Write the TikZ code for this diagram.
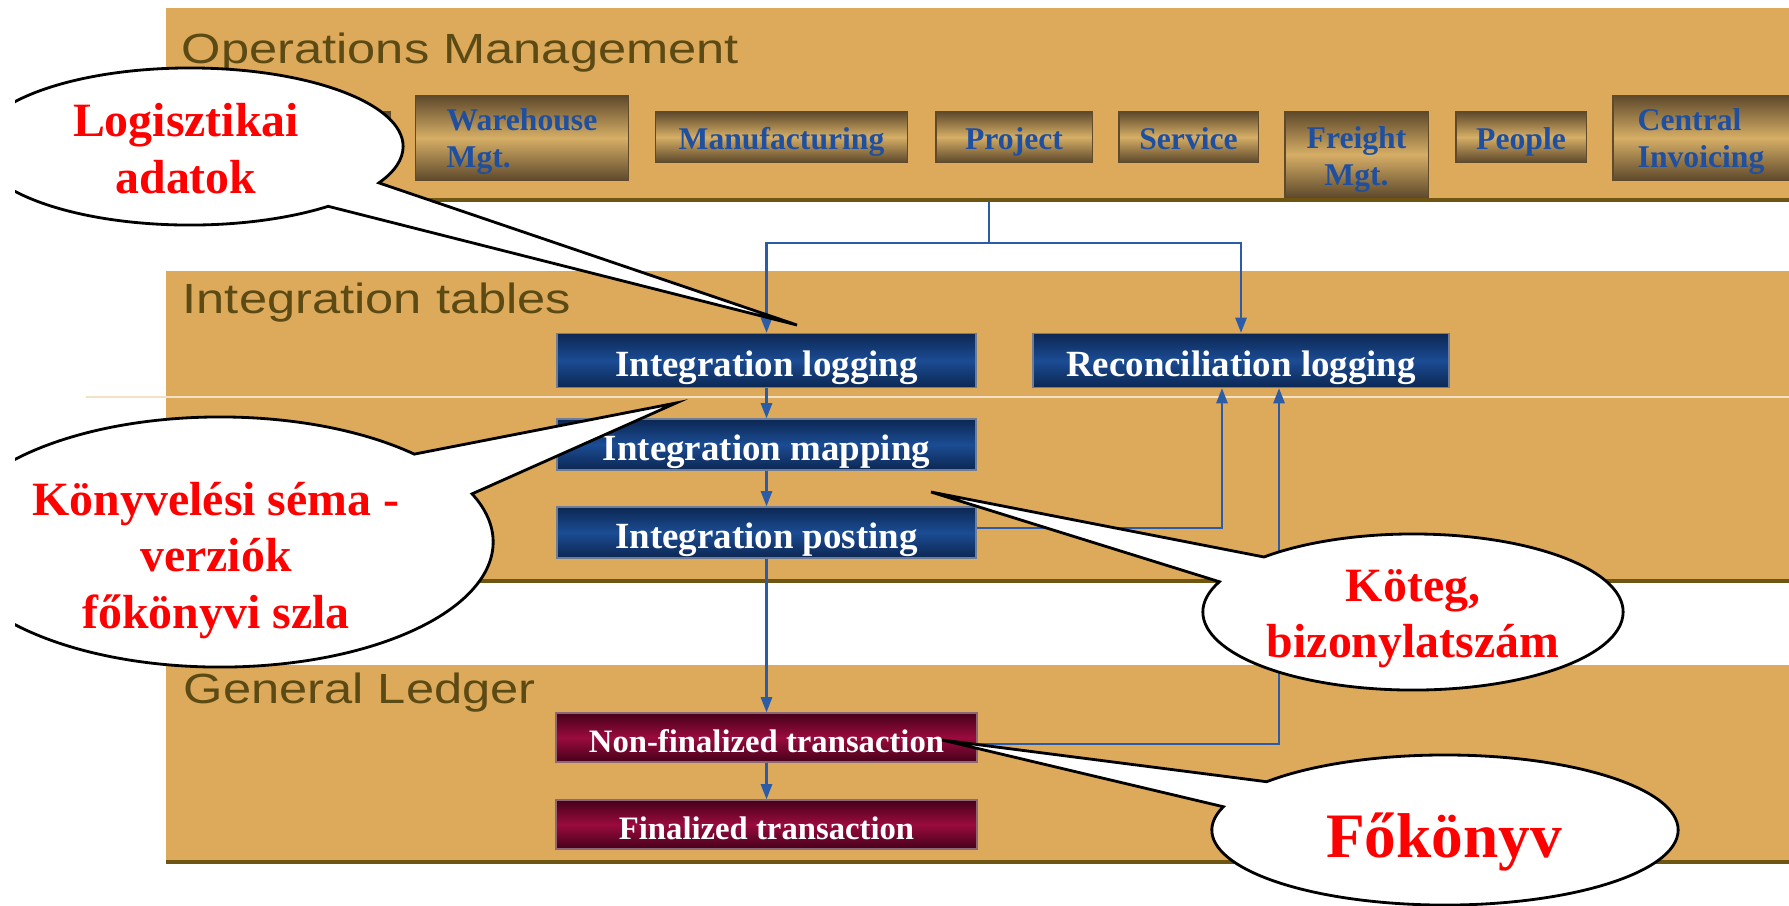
\documentclass[tikz,border=0pt]{standalone}
\usepackage{fontspec}
\setmainfont{Liberation Serif}
\newfontfamily\titlefont[FakeStretch=1.2]{Liberation Sans}
\usetikzlibrary{arrows.meta,shapes.callouts}

\begin{document}
\begin{tikzpicture}[x=0.01cm,y=-0.01cm,>={Triangle[length=4.3pt,width=3.2pt]}]
  % Local definitions
  \def\twoleft#1#2{\begin{tabular}[t]{@{}l@{}}#1\\#2\end{tabular}}
  \def\twocenter#1#2{\begin{tabular}[t]{@{}c@{}}#1\\#2\end{tabular}}

  % Colors
  \definecolor{panelcolor}{HTML}{DDAA5B}
  \definecolor{paneledge}{HTML}{6E5512}
  \definecolor{titlecolor}{HTML}{5C4A14}
  \definecolor{moduledark}{HTML}{5F4A2C}
  \definecolor{modulelight}{HTML}{D6AE66}
  \definecolor{moduletext}{HTML}{1E4FA0}
  \definecolor{navydark}{HTML}{0C2752}
  \definecolor{navymid}{HTML}{1B4C94}
  \definecolor{maroondark}{HTML}{45001A}
  \definecolor{maroonmid}{HTML}{9A0B3D}
  \definecolor{flowcolor}{HTML}{2A5CA8}
  \definecolor{calloutred}{HTML}{FF0000}

  % Styles
  \tikzstyle{panel}=[fill=panelcolor]
  \tikzstyle{panel edge}=[draw=paneledge,line width=0.9pt]
  \tikzstyle{panel title}=[anchor=base west,inner sep=0pt,text=titlecolor,
    font=\titlefont\fontsize{12}{14}\selectfont]
  \tikzstyle{module}=[draw=moduledark,line width=0.3pt,top color=moduledark,
    bottom color=moduledark,middle color=modulelight,text=moduletext,
    font=\fontsize{9}{10.5}\selectfont\bfseries,inner sep=0pt,minimum height=0.5cm]
  \tikzstyle{one line}=[text height=9pt,text depth=2pt]
  \tikzstyle{two lines}=[minimum height=0.84cm,text height=7pt,text depth=11pt]
  \tikzstyle{table box}=[draw=navydark!60!white,line width=0.4pt,top color=navydark,
    bottom color=navydark,middle color=navymid,text=white,inner sep=0pt,
    font=\fontsize{10.5}{12}\selectfont\bfseries,minimum width=4.19cm,minimum height=0.54cm,
    text height=11pt,text depth=2pt]
  \tikzstyle{ledger box}=[draw=maroondark!60!white,line width=0.4pt,top color=maroondark,
    bottom color=maroondark,middle color=maroonmid,text=white,inner sep=0pt,
    font=\fontsize{9.3}{11}\selectfont\bfseries,minimum width=4.21cm,minimum height=0.49cm,
    text height=8.4pt,text depth=0pt]
  \tikzstyle{flow}=[draw=flowcolor,line width=0.6pt]
  \tikzstyle{bubble}=[ellipse callout,draw=black,line width=0.8pt,fill=white,
    inner sep=0pt,callout pointer arc=22]
  \tikzstyle{bubble text}=[text=calloutred,align=center,inner sep=0pt,
    font=\fontsize{13.6}{16}\selectfont\bfseries]

  % The graphic
  \fill[white] (0,0) rectangle (1789,905);
  \useasboundingbox (0,0) rectangle (1789,905);

  \begin{scope}
  \clip (15,0) rectangle (1789,905);

  % Panels
  \fill[style=panel] (166,8) rectangle (1789,200);
  \draw[style=panel edge] (166,200) -- (1789,200);
  \fill[style=panel] (166,271) rectangle (1789,581);
  \draw[style=panel edge] (166,581) -- (1789,581);
  \fill[style=panel] (166,665) rectangle (1789,862);
  \draw[style=panel edge] (166,862) -- (1789,862);
  \draw[panelcolor!35!white,line width=0.3pt] (86,397) -- (1789,397);

  \node[panel title] (opstitle) at (181,63) {Operations Management};
  \node[panel title] (inttitle) at (182,313) {Integration tables};
  \node[panel title] (gltitle) at (183,703) {General Ledger};

  % Modules
  \node[module,one line,minimum width=0.90cm] (hidden) at (345,137) {};
  \node[module,two lines,minimum width=2.12cm] (warehouse)
    at (522,138) {\twoleft{Warehouse}{Mgt.}};
  \node[module,one line,minimum width=2.51cm] (manufacturing) at (781.5,137) {Manufacturing};
  \node[module,one line,minimum width=1.56cm] (project) at (1014,137) {Project};
  \node[module,one line,minimum width=1.39cm] (service) at (1188.5,137) {Service};
  \node[module,two lines,minimum width=1.43cm,minimum height=0.85cm,text depth=10.4pt]
    (freight) at (1356.5,154.5) {\twocenter{Freight}{Mgt.}};
  \node[module,one line,minimum width=1.30cm] (people) at (1521,137) {People};
  \node[module,two lines,minimum width=1.76cm] (invoicing)
    at (1701,138) {\twoleft{Central}{Invoicing}};

  % Tables
  \node[table box] (logging) at (766.5,360.5) {Integration logging};
  \node[table box,minimum width=4.16cm] (reconciliation) at (1241,360.5) {Reconciliation logging};
  \node[table box,minimum height=0.51cm] (mapping) at (766.5,444.5) {Integration mapping};
  \node[table box,minimum height=0.51cm] (posting) at (766.5,532.5) {Integration posting};
  \node[ledger box] (nonfinal) at (766.5,737.5) {Non-finalized transaction};
  \node[ledger box] (final) at (766.5,824.5) {Finalized transaction};

  % Connectors
  \coordinate (opsout) at (989,201);
  \coordinate (split) at (989,243);
  \draw[style=flow] (opsout) -- (split);
  \draw[style=flow,->] (split) -| (logging.north);
  \draw[style=flow,->] (split) -| (reconciliation.north);
  \draw[style=flow,->] (logging) -- (mapping);
  \draw[style=flow,->] (mapping) -- (posting);
  \draw[style=flow,->] (posting) -- (nonfinal);
  \draw[style=flow,->] (nonfinal) -- (final);
  \draw[style=flow,->] ([yshift=0.045cm]posting.east) -| ([xshift=-0.19cm]reconciliation.south);
  \draw[style=flow,->] ([yshift=-0.065cm]nonfinal.east) -| ([xshift=0.38cm]reconciliation.south);

  % Callouts
  \node[bubble,minimum width=4.26cm,minimum height=1.57cm,
    callout absolute pointer={(797,325)}] (logcallout) at (190,146.5) {};
  \node[bubble text] (logtext) at (186,148.5) {Logisztikai\\adatok};

  \node[bubble,minimum width=5.46cm,minimum height=2.50cm,
    callout absolute pointer={(676,403)}] (schemacallout) at (220,542) {};
  \node[bubble text] (schematext) at (216,560.5) {Könyvelési séma -\\verziók\\főkönyvi szla};

  \node[bubble,minimum width=4.20cm,minimum height=1.56cm,
    callout absolute pointer={(931,492)}] (batchcallout) at (1413,612) {};
  \node[bubble text] (batchtext) at (1413,618.5) {Köteg,\\bizonylatszám};

  \node[bubble,minimum width=4.66cm,minimum height=1.50cm,
    callout absolute pointer={(942,740)}] (ledgercallout) at (1445,830) {};
  \node[bubble text,font=\fontsize{18}{20}\selectfont\bfseries,anchor=base]
    (ledgertext) at (1444,857) {Főkönyv};
  \end{scope}
\end{tikzpicture}
\end{document}
